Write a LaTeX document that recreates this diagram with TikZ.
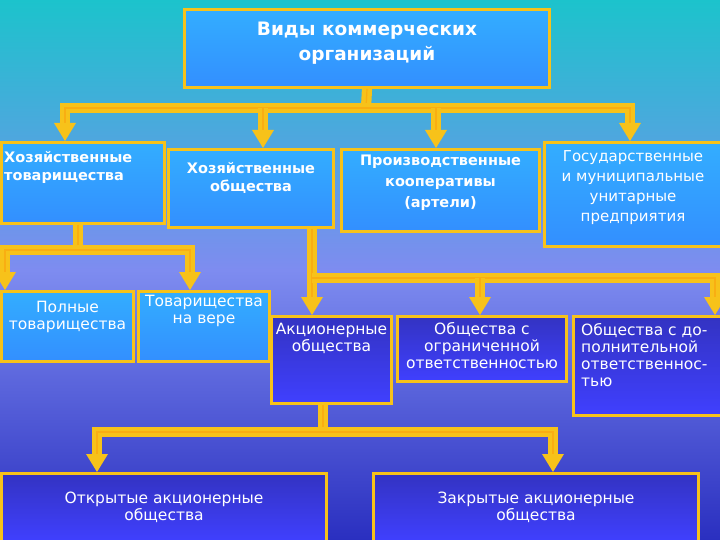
\documentclass[tikz,border=0pt]{standalone}
\usepackage{fontspec}
\setmainfont{DejaVu Sans}
\usetikzlibrary{arrows.meta}
\definecolor{gold}{HTML}{F7C21A}
\definecolor{bgtop}{HTML}{1CC3CC}
\definecolor{bgmid}{HTML}{7E8CF0}
\definecolor{bgbot}{HTML}{2A2FC0}
\begin{document}
\begin{tikzpicture}[x=1pt,y=-1pt,
  box/.style={draw=gold,line width=3pt,anchor=north west,inner sep=0pt},
  topbox/.style={box,top color=cyan!60!blue!80,bottom color=blue!55!cyan!80},
  lowbox/.style={box,top color=blue!70!black!80,bottom color=blue!75},
  txt/.style={text=white,font=\fontsize{15.5}{17}\selectfont,align=center,anchor=north,inner sep=1pt},
  btxt/.style={txt,font=\bfseries\fontsize{14.5}{18}\selectfont},
  conn/.style={draw=gold,line width=4.5pt,double=gold!70!orange,double distance=1.2pt},
  tip/.style={fill=gold},
]
\shade[top color=bgtop,bottom color=bgbot,middle color=bgmid] (0,0) rectangle (720,540);
\useasboundingbox (0,0) rectangle (720,540);
% boxes
\node[topbox,minimum width=365,minimum height=78] (title) at (183,8) {};
\node[btxt,font=\bfseries\fontsize{18.5}{25}\selectfont] (titlet) at ([yshift=-13]title.north) {Виды коммерческих\\организаций};
\node[topbox,minimum width=163,minimum height=81] (ht) at (0,141) {};
\node[btxt,anchor=north west,align=left] (htt) at (3,150) {Хозяйственные\\товарищества};
\node[topbox,minimum width=165,minimum height=78] (ho) at (167,148) {};
\node[btxt] (hot) at ([yshift=-13]ho.north) {Хозяйственные\\общества};
\node[topbox,minimum width=198,minimum height=82] (pk) at (340,148) {};
\node[btxt,font=\bfseries\fontsize{14.5}{21}\selectfont] (pkt) at ([yshift=-6]pk.north) {Производственные\\кооперативы\\(артели)};
\node[topbox,minimum width=177,minimum height=104] (gmu) at (543,141) {};
\node[txt,font=\fontsize{15}{20}\selectfont] (gmut) at ([yshift=-8]gmu.north) {Государственные\\и муниципальные\\унитарные\\предприятия};
\node[topbox,minimum width=132,minimum height=70] (full) at (0,290) {};
\node[txt] (fullt) at ([yshift=-10]full.north) {Полные\\товарищества};
\node[topbox,minimum width=131,minimum height=70] (tnv) at (137,290) {};
\node[txt] (tnvt) at ([yshift=-4]tnv.north) {Товарищества\\на вере};
\node[lowbox,minimum width=120,minimum height=87] (ao) at (270,315) {};
\node[txt] (aot) at ([yshift=-7]ao.north) {Акционерные\\общества};
\node[lowbox,minimum width=169,minimum height=65] (ooo) at (396,315) {};
\node[txt] (ooot) at ([yshift=-6]ooo.north) {Общества с\\ограниченной\\ответственностью};
\node[lowbox,minimum width=148,minimum height=99] (odo) at (572,315) {};
\node[txt,align=left,anchor=north west] (odot) at (580,322) {Общества с до-\\полнительной\\ответственнос-\\тью};
\node[lowbox,minimum width=325,minimum height=68] (oao) at (0,472) {};
\node[txt] (oaot) at ([yshift=-19]oao.north) {Открытые акционерные\\общества};
\node[lowbox,minimum width=325,minimum height=68] (zao) at (372,472) {};
\node[txt] (zaot) at ([yshift=-19]zao.north) {Закрытые акционерные\\общества};
% coordinates
\coordinate (j1) at (366,108);
\coordinate (j2) at (78,250);
\coordinate (j3) at (312,278);
\coordinate (j4) at (323,432);
% connectors
\draw[conn] (title.south) -- (j1);
\draw[conn] (65,130) -- (65,108) -- (630,108) -- (630,130);
\draw[conn] (263,108) -- (263,136);
\draw[conn] (436,108) -- (436,136);
\draw[conn] (ht.south -| j2) -- (j2);
\draw[conn] (5,278) -- (5,250) -- (190,250) -- (190,278);
\draw[conn] (ho.south -| j3) -- (312,303);
\draw[conn] (j3) -- (715,278) -- (715,300);
\draw[conn] (480,278) -- (480,303);
\draw[conn] (ao.south -| j4) -- (j4);
\draw[conn] (97,460) -- (97,432) -- (553,432) -- (553,460);
% arrow tips
\foreach \x/\y in {65/141,263/148,436/148,630/141,5/290,190/290,312/315,480/315,715/315,97/472,553/472}
  \fill[tip] (\x-11,\y-18) -- (\x+11,\y-18) -- (\x,\y) -- cycle;
\end{tikzpicture}
\end{document}
